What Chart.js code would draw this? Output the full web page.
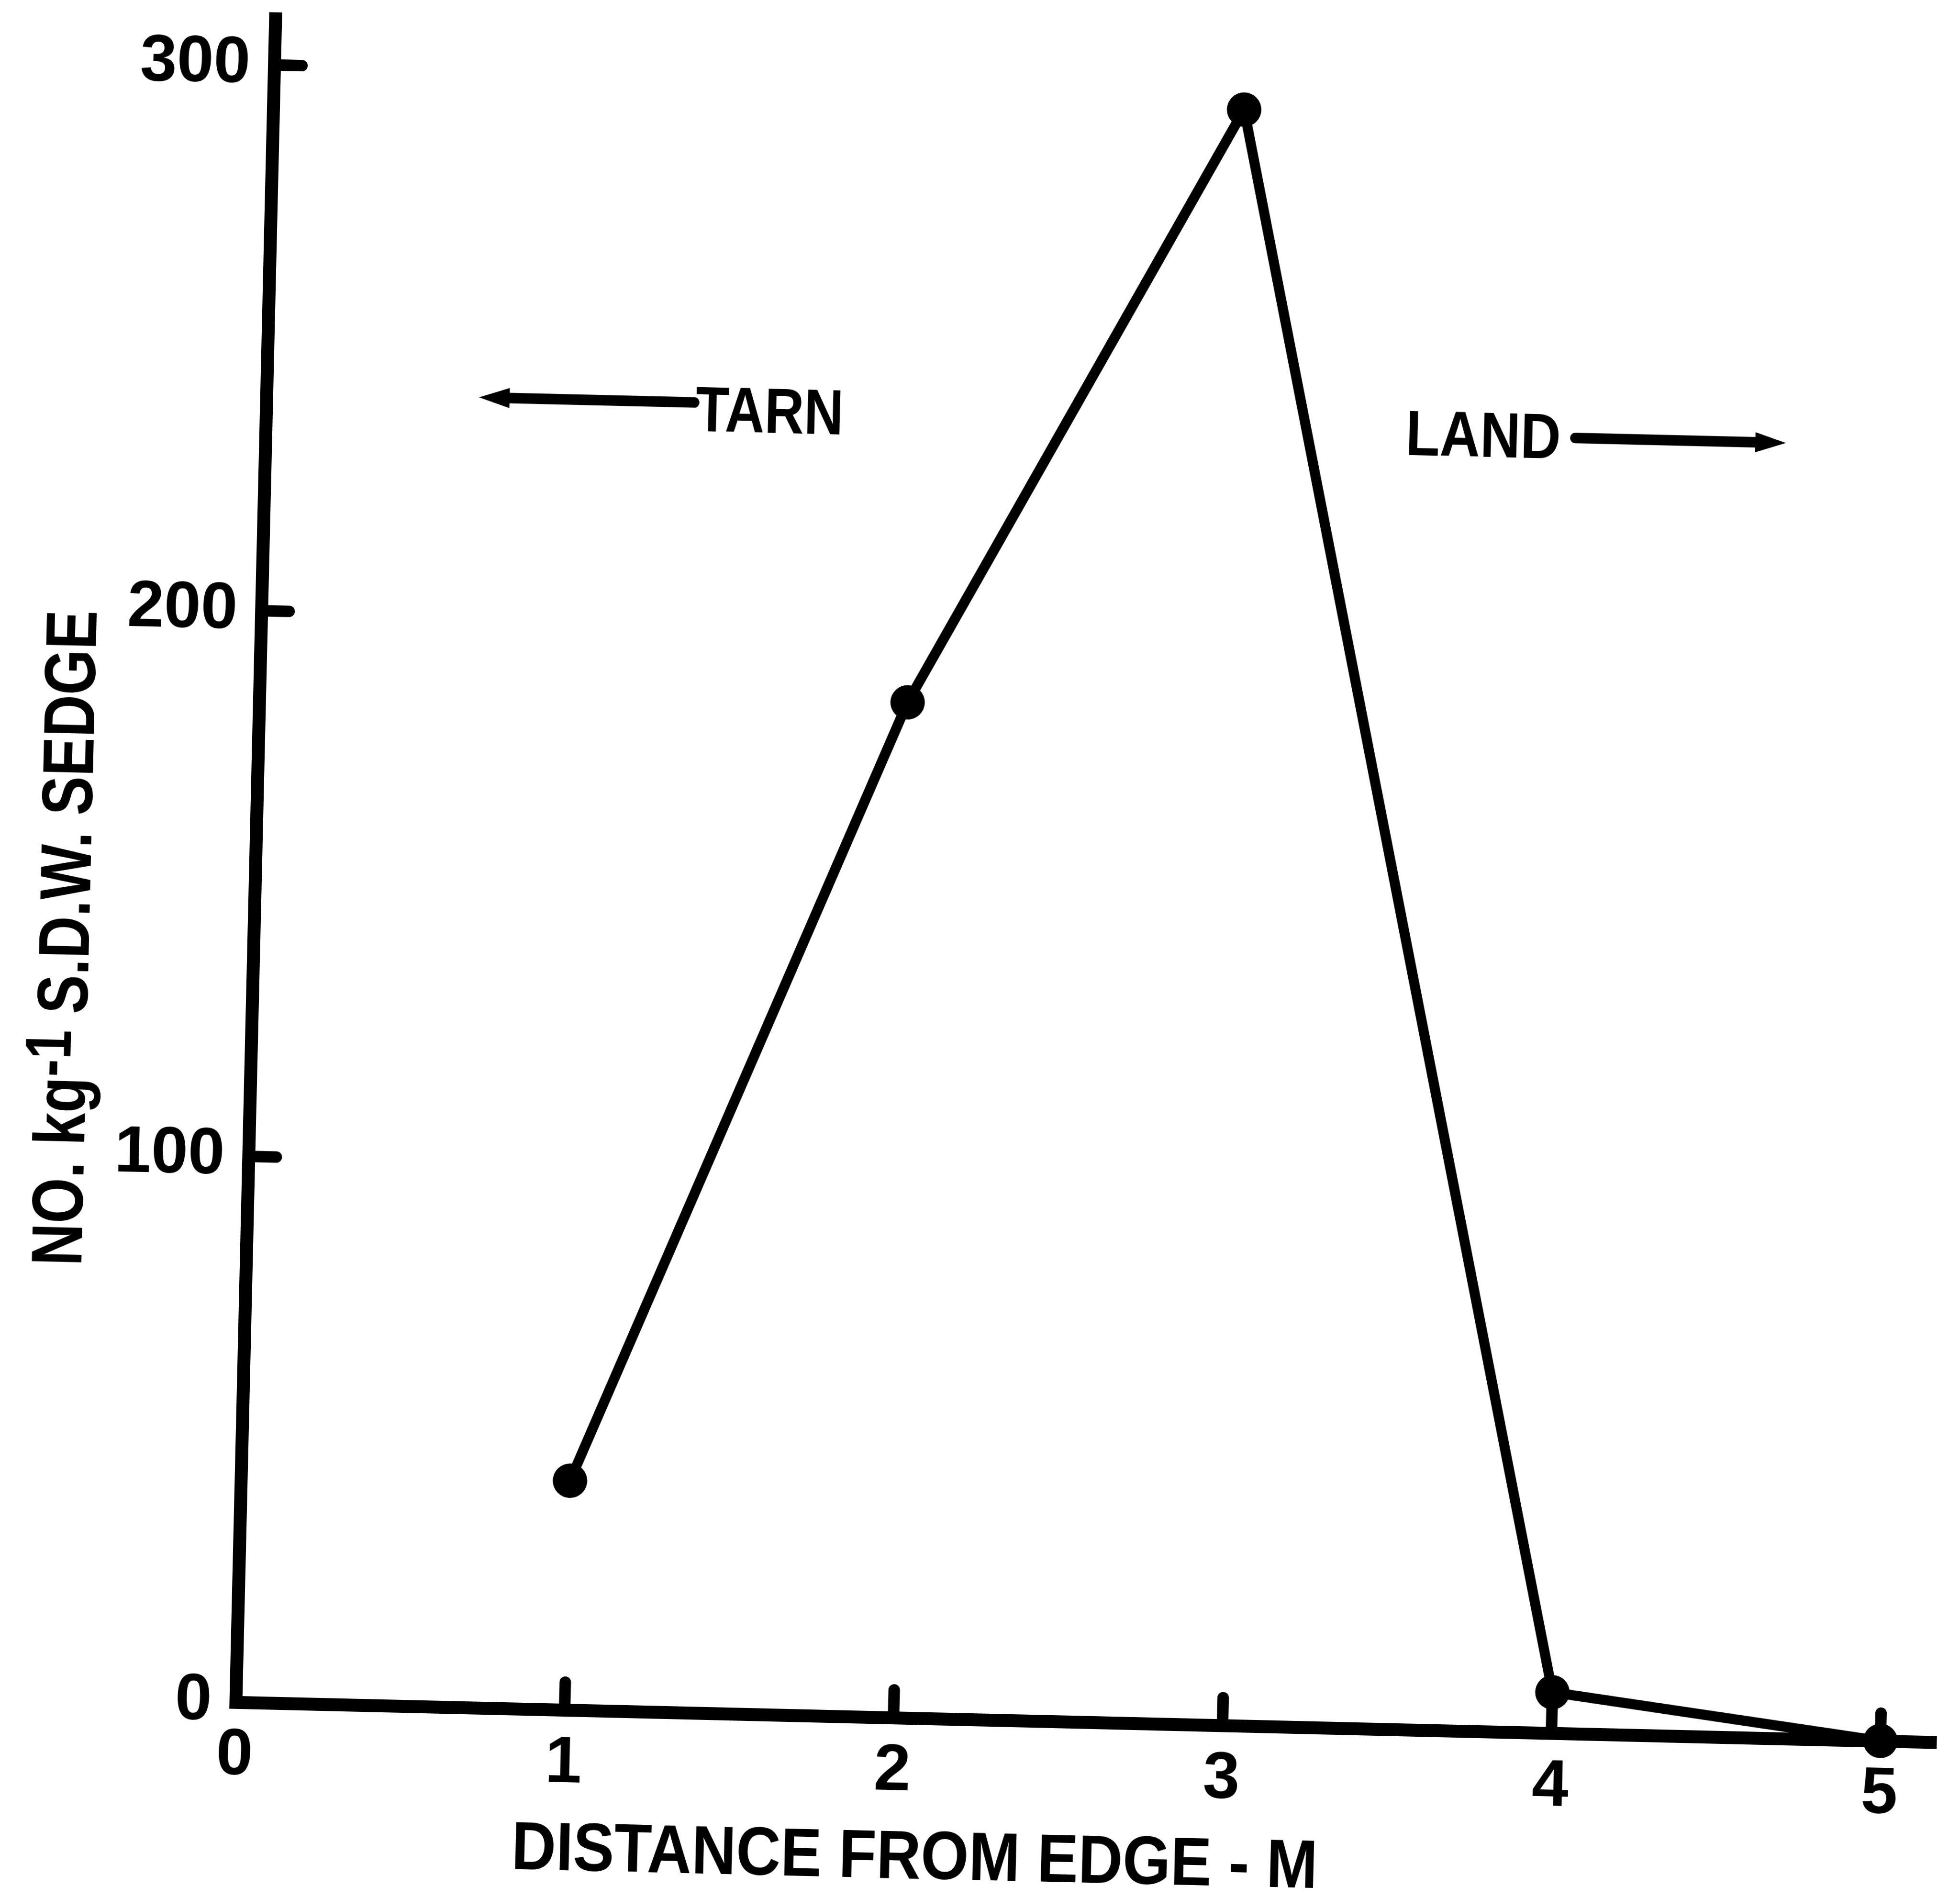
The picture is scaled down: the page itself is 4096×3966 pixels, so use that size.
<!DOCTYPE html>
<html>
<head>
<meta charset="utf-8">
<title>Sedge count by distance from edge</title>
<script src="https://cdn.jsdelivr.net/npm/chart.js@4.4.1/dist/chart.umd.min.js"></script>
<style>
  html, body { margin: 0; padding: 0; background: #fff; overflow: hidden; }
  #wrap { width: 4096px; height: 3966px; }
  /* the printed figure sits slightly turned on the page */
  #sedgeChart { display: block; transform: rotate(1.35deg); transform-origin: 50% 50%; }
</style>
</head>
<body>
<div id="wrap"><canvas id="sedgeChart" width="4096" height="3966"></canvas></div>
<script>
// distance from the tarn edge (m) and count per kg sedge dry weight
const distance = [1.0, 1.97, 2.95, 4.0, 5.0];
const sedgeCount = [42, 186, 296, 7.5, 0];

const xTickValues = [0, 1, 2, 3, 4, 5];
const yTickValues = [0, 100, 200, 300];
const xRange = [0, 5.17];
const yRange = [0, 308.5];

const xTitle = 'DISTANCE FROM EDGE - M';
const yTitleParts = ['NO. kg', '-1', ' S.D.W. SEDGE'];
const sideLabels = ['TARN', 'LAND'];

const FONT = "'Liberation Sans', Arial, sans-serif";
const CAP = 0.729;

// bold text squeezed to a given width, centred on (x, y)
function drawSqueezed(ctx, text, x, y, size, width) {
    ctx.font = 'bold ' + size + 'px ' + FONT;
    const natural = ctx.measureText(text).width;
    ctx.save();
    ctx.translate(x, y);
    ctx.scale(width / natural, 1);
    ctx.textAlign = 'center';
    ctx.textBaseline = 'alphabetic';
    ctx.fillText(text, 0, size * CAP / 2);
    ctx.restore();
}

function drawArrow(ctx, tail, tip, y, shaft, headLen, headHalf) {
    const dir = Math.sign(tip - tail);
    ctx.lineWidth = shaft;
    ctx.lineCap = 'round';
    ctx.beginPath();
    ctx.moveTo(tail, y);
    ctx.lineTo(tip - dir * headLen * 0.7, y);
    ctx.stroke();
    ctx.beginPath();
    ctx.moveTo(tip, y);
    ctx.lineTo(tip - dir * headLen, y - headHalf);
    ctx.lineTo(tip - dir * headLen, y + headHalf);
    ctx.closePath();
    ctx.fill();
}

const chartDecor = {
    id: 'chartDecor',
    afterDraw(chart, args, opts) {
        const { ctx, chartArea, scales: { x, y } } = chart;
        ctx.save();
        ctx.fillStyle = '#000';
        ctx.strokeStyle = '#000';

        // short ticks pointing into the plot
        ctx.lineWidth = opts.tickWidth;
        ctx.lineCap = 'round';
        y.ticks.filter(t => t.value > 0).forEach(t => {
            const py = y.getPixelForValue(t.value);
            ctx.beginPath();
            ctx.moveTo(chartArea.left, py);
            ctx.lineTo(chartArea.left + opts.tickLength, py);
            ctx.stroke();
        });
        x.ticks.filter(t => t.value > 0).forEach(t => {
            const px = x.getPixelForValue(t.value);
            ctx.beginPath();
            ctx.moveTo(px, chartArea.bottom);
            ctx.lineTo(px, chartArea.bottom - opts.tickLength);
            ctx.stroke();
        });

        // axis titles
        const xt = opts.xTitle;
        drawSqueezed(ctx, xTitle, xt.x, xt.y, xt.size, xt.width);

        const yt = opts.yTitle;
        ctx.save();
        ctx.translate(yt.x, yt.y);
        ctx.rotate(-Math.PI / 2);
        const supSize = yt.size * 0.9;
        ctx.font = 'bold ' + yt.size + 'px ' + FONT;
        const w0 = ctx.measureText(yTitleParts[0]).width;
        const w2 = ctx.measureText(yTitleParts[2]).width;
        ctx.font = 'bold ' + supSize + 'px ' + FONT;
        const w1 = ctx.measureText(yTitleParts[1]).width;
        const f = yt.width / (w0 + w1 + w2);
        ctx.scale(f, 1);
        ctx.textAlign = 'left';
        ctx.textBaseline = 'alphabetic';
        let cx = -(w0 + w1 + w2) / 2;
        const base = yt.size * CAP / 2;
        ctx.font = 'bold ' + yt.size + 'px ' + FONT;
        ctx.fillText(yTitleParts[0], cx, base);
        cx += w0;
        ctx.font = 'bold ' + supSize + 'px ' + FONT;
        ctx.fillText(yTitleParts[1], cx, base - yt.size * CAP * 0.3);
        cx += w1;
        ctx.font = 'bold ' + yt.size + 'px ' + FONT;
        ctx.fillText(yTitleParts[2], cx, base);
        ctx.restore();

        // direction labels with arrows
        opts.sides.forEach((s, i) => {
            drawSqueezed(ctx, sideLabels[i], x.getPixelForValue(s.labelX), y.getPixelForValue(s.labelY), opts.sideSize, s.width);
            drawArrow(ctx, x.getPixelForValue(s.tail), x.getPixelForValue(s.tip), y.getPixelForValue(s.arrowY), 22, 64, 21);
        });

        ctx.restore();
    }
};

const tickFont = { family: FONT, weight: 'bold', size: 138 };

new Chart(document.getElementById('sedgeChart'), {
    type: 'scatter',
    data: {
        datasets: [{
            data: distance.map((d, i) => ({ x: d, y: sedgeCount[i] })),
            showLine: true,
            tension: 0,
            borderColor: '#000',
            borderWidth: 21,
            pointRadius: 36,
            pointHoverRadius: 36,
            pointBackgroundColor: '#000',
            pointBorderWidth: 0,
            clip: false
        }]
    },
    options: {
        responsive: false,
        animation: false,
        devicePixelRatio: 1,
        events: [],
        layout: { autoPadding: false, padding: { top: 74, right: 11, bottom: 0, left: 0 } },
        plugins: {
            legend: { display: false },
            tooltip: { enabled: false },
            chartDecor: {
                tickWidth: 24,
                tickLength: 58,
                sideSize: 133,
                xTitle: { x: 1956, y: 3876, size: 143, width: 1685 },
                yTitle: { x: 131, y: 2005, size: 150, width: 1370 },
                sides: [
                    { labelX: 1.53, labelY: 239, width: 309, tail: 1.30, tip: 0.646, arrowY: 240 },
                    { labelX: 3.70, labelY: 237.7, width: 324, tail: 3.98, tip: 4.62, arrowY: 237.3 }
                ]
            }
        },
        scales: {
            x: {
                type: 'linear',
                position: 'bottom',
                min: xRange[0],
                max: xRange[1],
                grid: { display: false },
                border: { display: true, color: '#000', width: 27 },
                ticks: { color: '#000', font: tickFont, padding: 22, maxRotation: 0, autoSkip: false },
                afterBuildTicks(scale) {
                    scale.ticks = xTickValues.map(v => ({ value: v }));
                },
                afterFit(scale) {
                    scale.height = 373;
                    scale.paddingLeft = 0;
                    scale.paddingRight = 0;
                }
            },
            y: {
                type: 'linear',
                position: 'left',
                min: yRange[0],
                max: yRange[1],
                grid: { display: false },
                border: { display: true, color: '#000', width: 27 },
                ticks: { color: '#000', font: tickFont, padding: 42 },
                afterBuildTicks(scale) {
                    scale.ticks = yTickValues.map(v => ({ value: v }));
                },
                afterFit(scale) {
                    scale.width = 530;
                    scale.paddingTop = 0;
                    scale.paddingBottom = 0;
                }
            }
        }
    },
    plugins: [chartDecor]
});
</script>
</body>
</html>
